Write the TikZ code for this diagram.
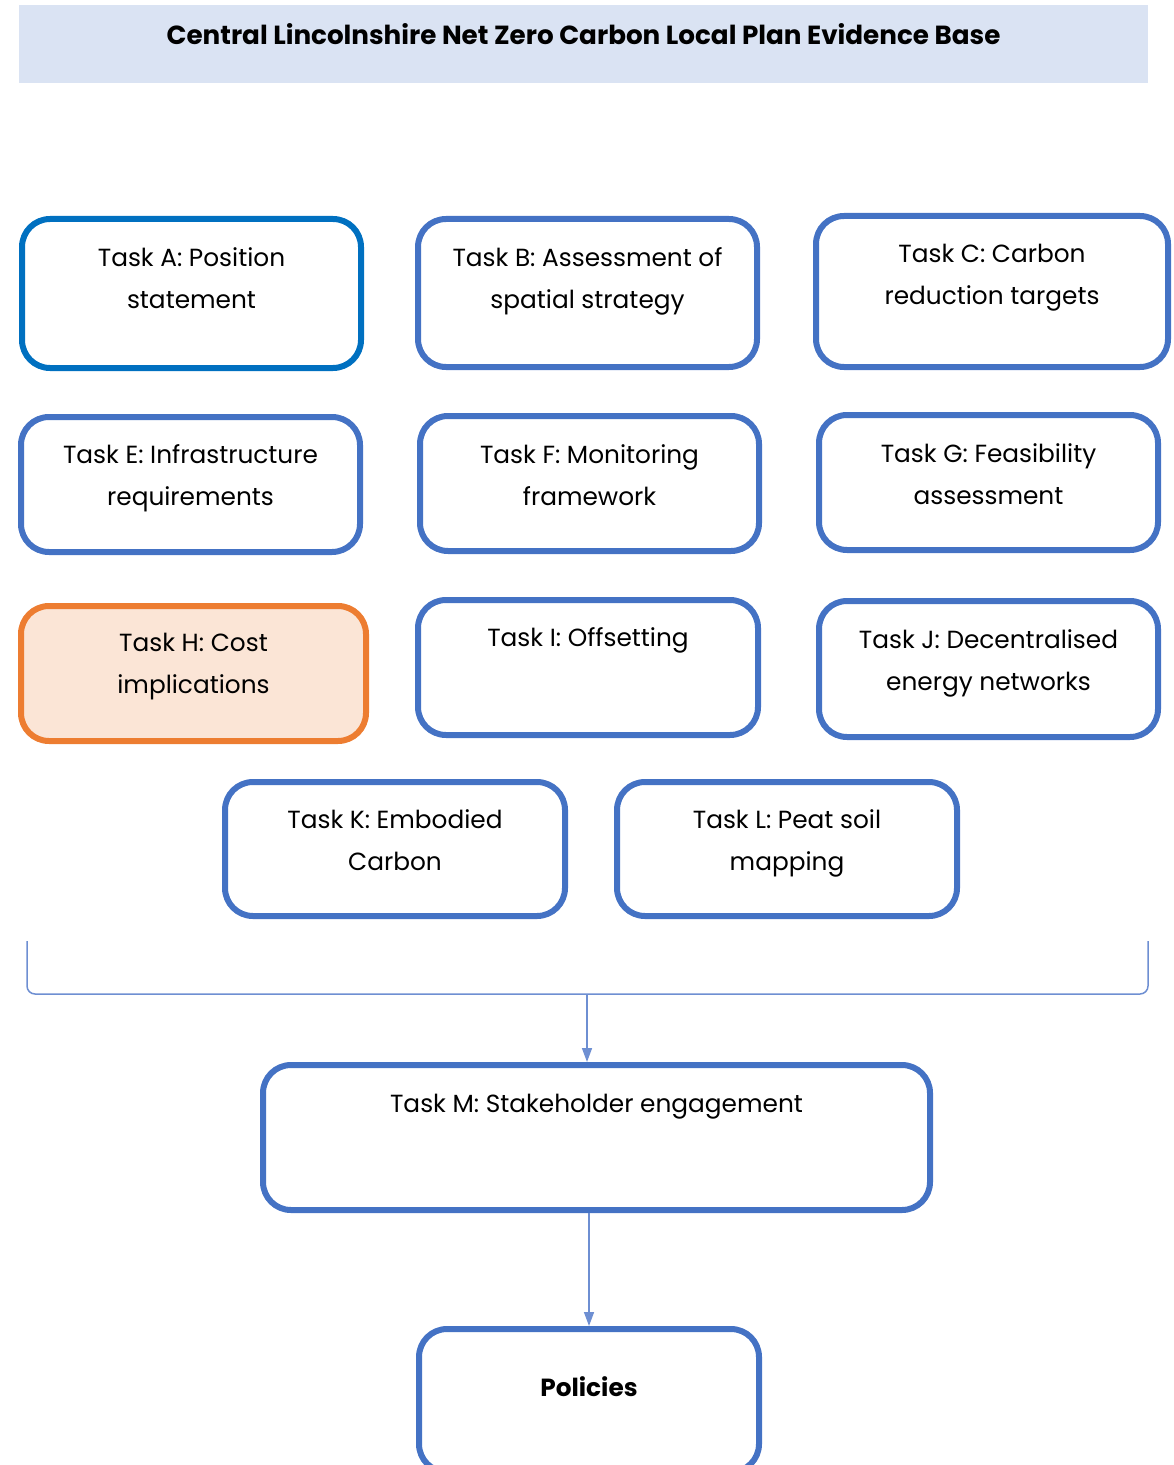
\documentclass[tikz,border=0pt]{standalone}
\usepackage{fontspec}
\setmainfont{Poppins}
\usetikzlibrary{arrows.meta,positioning}
\definecolor{boxblue}{HTML}{4472C4}
\definecolor{boxdarkblue}{HTML}{0070C0}
\definecolor{linkblue}{HTML}{6E8FD2}
\definecolor{titlefill}{HTML}{DAE3F3}
\definecolor{costorange}{HTML}{ED7D31}
\definecolor{costfill}{HTML}{FBE5D6}
\tikzset{
  taskbox/.style={draw=boxblue, line width=3pt, rounded corners=14pt, fill=white, inner sep=0pt},
  tasktext/.style={anchor=north, align=center, inner sep=0pt, font=\fontsize{12.4}{21}\selectfont},
  flow/.style={draw=linkblue, line width=0.75pt, -{Triangle[length=7pt,width=5pt]}},
}
\begin{document}
\begin{tikzpicture}[x=0.5pt, y=-0.5pt]
	\useasboundingbox (0,0) rectangle (1173,1465);
	% title bar
	\node[fill=titlefill, minimum width=564.5pt, minimum height=39pt, inner sep=0pt] (title) at (583.5,44) {};
	\node[below=9.5pt of title.north, anchor=north, inner sep=0pt, font=\fontsize{13.1}{15}\selectfont\bfseries] (titletext) {Central Lincolnshire Net Zero Carbon Local Plan Evidence Base};
	% tasks
	\node[taskbox, draw=boxdarkblue, minimum width=169.5pt, minimum height=74.5pt] (taskA) at (191.5,293.5) {};
	\node[taskbox, minimum width=169.5pt, minimum height=74pt] (taskB) at (587.5,293) {};
	\node[taskbox, minimum width=176pt, minimum height=75.5pt] (taskC) at (992,291.5) {};
	\node[taskbox, minimum width=169.5pt, minimum height=67.5pt] (taskE) at (190.5,484.5) {};
	\node[taskbox, minimum width=169.5pt, minimum height=67.5pt] (taskF) at (589.5,483.5) {};
	\node[taskbox, minimum width=169.5pt, minimum height=67.5pt] (taskG) at (988.5,482.5) {};
	\node[taskbox, draw=costorange, fill=costfill, minimum width=172.5pt, minimum height=67.5pt] (taskH) at (193.5,673.5) {};
	\node[taskbox, minimum width=170pt, minimum height=67.5pt] (taskI) at (588,667.5) {};
	\node[taskbox, minimum width=169.5pt, minimum height=68pt] (taskJ) at (988.5,669) {};
	\node[taskbox, minimum width=170pt, minimum height=67pt] (taskK) at (395,849) {};
	\node[taskbox, minimum width=170pt, minimum height=67pt] (taskL) at (787,849) {};
	\node[taskbox, minimum width=333.5pt, minimum height=72.5pt] (taskM) at (596.5,1137.5) {};
	\node[taskbox, minimum width=170pt, minimum height=71.5pt] (policies) at (589,1400.5) {};
	\node[tasktext, below=15.5pt of taskA.north] (textA) {Task A: Position\\statement};
	\node[tasktext, below=15.5pt of taskB.north] (textB) {Task B: Assessment of\\spatial strategy};
	\node[tasktext, below=15.5pt of taskC.north] (textC) {Task C: Carbon\\reduction targets};
	\node[tasktext, below=15pt of taskE.north] (textE) {Task E: Infrastructure\\requirements};
	\node[tasktext, below=15.5pt of taskF.north] (textF) {Task F: Monitoring\\framework};
	\node[tasktext, below=15.5pt of taskG.north] (textG) {Task G: Feasibility\\assessment};
	\node[tasktext, below=15pt of taskH.north] (textH) {Task H: Cost\\implications};
	\node[tasktext, below=15pt of taskI.north] (textI) {Task I: Offsetting};
	\node[tasktext, below=15.5pt of taskJ.north] (textJ) {Task J: Decentralised\\energy networks};
	\node[tasktext, below=15pt of taskK.north] (textK) {Task K: Embodied\\Carbon};
	\node[tasktext, below=15pt of taskL.north] (textL) {Task L: Peat soil\\mapping};
	\node[tasktext, below=16pt of taskM.north] (textM) {Task M: Stakeholder engagement};
	\node[tasktext, below=25pt of policies.north, font=\fontsize{12.4}{21}\selectfont\bfseries] (textP) {Policies};
	% bracket and arrows
	\coordinate (brL) at (27,941);
	\coordinate (brR) at (1148,941);
	\coordinate (brmid) at (587,994);
	\draw[linkblue, line width=0.75pt, rounded corners=4pt] (brL) |- (brmid) -| (brR);
	\draw[flow] (brmid) -- (brmid |- taskM.north);
	\draw[flow] (policies.north |- taskM.south) -- (policies.north);
\end{tikzpicture}
\end{document}
